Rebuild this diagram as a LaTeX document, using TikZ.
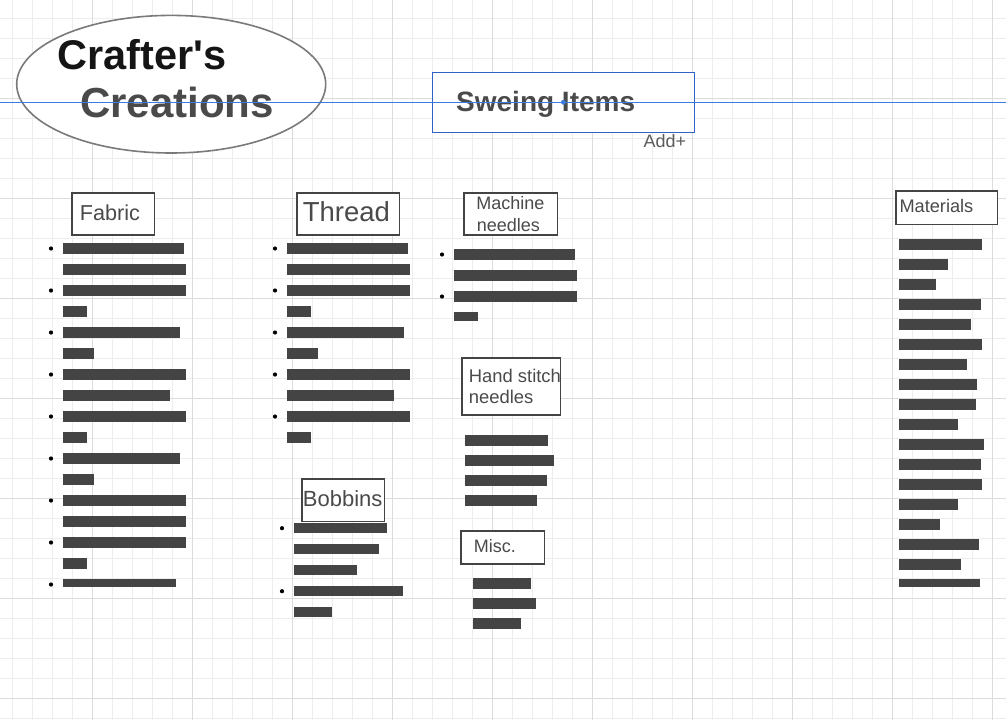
\documentclass[tikz,border=0pt]{standalone}
\usepackage{fontspec}
\setmainfont{Liberation Sans}
\newfontfamily\rawsans{Liberation Sans}[Ligatures=TeXOff]
\usetikzlibrary{shapes.geometric}
\definecolor{gridminor}{HTML}{EDEDED}
\definecolor{gridmajor}{HTML}{DCDCDC}
\definecolor{barc}{HTML}{444444}
\definecolor{txt}{HTML}{4A4A4A}
\definecolor{titleblack}{HTML}{151515}
\definecolor{blueline}{HTML}{3C7BE0}
\definecolor{bluebox}{HTML}{2F62C4}
\definecolor{ellgray}{HTML}{7A7A7A}
\newcommand{\barcol}[5]{% x0, y0, step, height, list of right ends
  \foreach \r [count=\k from 0] in {#5} {
    \fill[barc] (#1,{#2+#3*\k}) rectangle (\r,{#2+#3*\k+#4});
  }}
\begin{document}
\begin{tikzpicture}[x=1pt,y=-1pt,
  box/.style={draw=barc, line width=1.2pt, fill=white, inner sep=0, anchor=north west},
  lbl/.style={anchor=base west, inner sep=0, text=txt},
  bullet/.style={fill=black}]
\useasboundingbox (0,0) rectangle (1006,720);
\fill[white] (0,0) rectangle (1006,720);
% grid
\foreach \i in {0,...,49} \draw[gridminor, line width=0.8pt] ({12.7+20*\i},0) -- ({12.7+20*\i},720);
\foreach \j in {0,...,35} \draw[gridminor, line width=0.8pt] (0,{18.3+20*\j}) -- (1006,{18.3+20*\j});
\foreach \i in {0,...,9} \draw[gridmajor, line width=0.9pt] ({92.7+100*\i},0) -- ({92.7+100*\i},720);
\foreach \j in {0,...,6} \draw[gridmajor, line width=0.9pt] (0,{98.3+100*\j}) -- (1006,{98.3+100*\j});

% title ellipse
\node[ellipse, draw=ellgray, line width=1.6pt, fill=white, minimum width=309pt, minimum height=137.6pt, inner sep=0] (title) at (171.2,84.2) {};
\node[anchor=base west, inner sep=0, text=titleblack, font=\rawsans\bfseries\fontsize{41.5}{41.5}\selectfont] (crafters) at (57,69) {Crafter's};
\node[anchor=base west, inner sep=0, text=txt, font=\bfseries\fontsize{42}{42}\selectfont] (creations) at (80,117) {Creations};

% Sweing Items
\node[draw=bluebox, line width=1.1pt, fill=white, inner sep=0, anchor=north west, minimum width=261.4pt, minimum height=59.7pt] (sweingbox) at (432.3,72.3) {};
\node[lbl, font=\bfseries\fontsize{28}{28}\selectfont] (sweing) at (456,111.7) {Sweing Items};
\coordinate (bl) at (0,102.3);
\coordinate (br) at (1006,102.3);
\draw[blueline, line width=1.1pt] (bl) -- (br);
\fill[blueline] (563.3,102.3) circle (2.4);
\node[lbl, text=txt!90, font=\fontsize{18}{18}\selectfont] (add) at (643.3,147.7) {Add+};

% Fabric
\node[box, minimum width=82.4pt, minimum height=42pt] (fabricbox) at (71.3,192.3) {};
\node[lbl, font=\fontsize{21.6}{21.6}\selectfont] (fabric) at (79.7,220.3) {Fabric};
\barcol{63}{243.3}{21}{10.4}{184,186,186,87,180,94,186,170,186,87,180,94,186,186,186,87}
\fill[barc] (63,579.3) rectangle (176,587.3);
\foreach \k in {0,2,...,16} \fill[bullet] (51,{248.5+21*\k}) circle (2.1);

% Thread
\node[box, minimum width=102.4pt, minimum height=42pt] (threadbox) at (296.3,192.3) {};
\node[lbl, font=\fontsize{27.5}{27.5}\selectfont] (thread) at (302.7,221.7) {Thread};
\barcol{287}{243.3}{21}{10.4}{408,410,410,311,404,318,410,394,410,311}
\foreach \k in {0,2,...,8} \fill[bullet] (275,{248.5+21*\k}) circle (2.1);

% Bobbins
\node[box, minimum width=82.4pt, minimum height=42.4pt] (bobbinsbox) at (301.3,478.3) {};
\node[lbl, font=\fontsize{22}{22}\selectfont] (bobbins) at (302.7,506) {Bobbins};
\barcol{294}{523}{21}{10.4}{387,379,357,403,332}
\fill[bullet] (282,528.2) circle (2.1);
\fill[bullet] (282,591.2) circle (2.1);

% Machine needles
\node[box, minimum width=93.4pt, minimum height=42pt] (machinebox) at (463.3,192.3) {};
\node[anchor=base, inner sep=0, text=txt, font=\fontsize{18}{18}\selectfont] (machine1) at (510.3,209.3) {Machine};
\node[anchor=base, inner sep=0, text=txt, font=\fontsize{18}{18}\selectfont] (machine2) at (508.3,231) {needles};
\barcol{454}{249.3}{21}{10.4}{575,577,577}
\fill[barc] (454,312.3) rectangle (478,320.7);
\fill[bullet] (442,254.5) circle (2.1);
\fill[bullet] (442,296.5) circle (2.1);

% Hand stitch needles
\node[box, minimum width=98.4pt, minimum height=57pt] (handbox) at (461.3,357.3) {};
\node[lbl, font=\fontsize{18.4}{18.4}\selectfont] (hand1) at (468.7,382.3) {Hand stitch};
\node[lbl, font=\fontsize{18.4}{18.4}\selectfont] (hand2) at (468.7,403.7) {needles};
\barcol{465}{435.3}{20}{10.4}{548,554,547,537}

% Misc.
\node[box, minimum width=83.4pt, minimum height=33pt] (miscbox) at (460.3,530.3) {};
\node[lbl, font=\fontsize{18}{18}\selectfont] (misc) at (473.7,552.3) {Misc.};
\barcol{473}{578.3}{20}{10.4}{531,536,521}

% Materials
\node[box, minimum width=101.4pt, minimum height=33.4pt] (materialsbox) at (895.3,190.3) {};
\node[lbl, font=\fontsize{18.2}{18.2}\selectfont] (materials) at (899.3,212.3) {Materials};
\barcol{899}{239.3}{20}{10.4}{982,948,936,981,971,982,967,977,976,958,984,981,982,958,940,979,961}
\fill[barc] (899,579.3) rectangle (980,587.3);
\end{tikzpicture}
\end{document}
